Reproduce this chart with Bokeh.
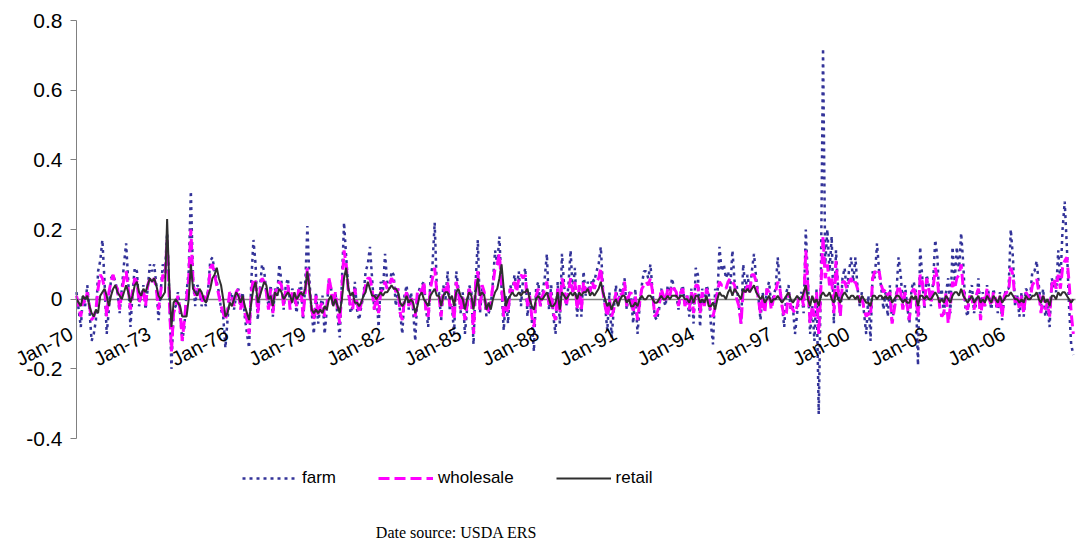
import numpy as np
from bokeh.plotting import figure
from bokeh.models import (Range1d, FixedTicker, Legend, LegendItem, Label, LabelSet,
                          ColumnDataSource)
from bokeh.core.properties import value
from bokeh.embed import file_html
from bokeh.resources import INLINE

# ---------------- data (monthly changes, Jan 1970 onward) ----------------
farm_rows = [
    [0.02, -0.03, -0.08, 0.01, -0.02, 0.04, -0.03, -0.12, -0.10, -0.06, 0.08, 0.11],   # 1970
    [0.17, 0.05, -0.10, -0.03, 0.06, 0.07, 0.05, 0.02, -0.04, 0.03, 0.10, 0.16],       # 1971
    [0.05, -0.08, 0.02, 0.09, 0.08, -0.02, 0.01, 0.04, -0.03, 0.03, 0.10, 0.08],       # 1972
    [0.10, 0.04, -0.06, 0.02, 0.10, 0.08, 0.19, 0.02, -0.20, -0.03, -0.02, 0.02],      # 1973
    [-0.04, -0.12, -0.08, 0.02, 0.08, 0.31, 0.06, -0.02, 0.04, 0.03, -0.02, 0.00],     # 1974
    [-0.02, 0.03, 0.11, 0.12, 0.08, 0.05, 0.02, -0.03, -0.05, -0.14, -0.06, 0.01],     # 1975
    [0.02, -0.03, 0.01, 0.03, -0.02, 0.02, -0.05, -0.10, -0.14, 0.05, 0.17, 0.10],     # 1976
    [-0.06, 0.03, 0.10, 0.08, 0.02, -0.02, 0.04, -0.05, 0.03, 0.01, 0.10, 0.05],       # 1977
    [-0.03, 0.04, 0.06, -0.02, 0.03, 0.01, -0.04, 0.02, 0.05, -0.06, 0.04, 0.21],      # 1978
    [0.05, -0.04, -0.10, 0.02, -0.07, -0.02, 0.01, -0.10, -0.03, 0.06, 0.03, -0.02],   # 1979
    [0.02, -0.05, -0.11, 0.05, 0.22, 0.12, 0.03, -0.04, -0.02, 0.05, -0.03, -0.06],    # 1980
    [-0.02, 0.01, 0.08, 0.10, 0.15, 0.06, -0.03, 0.02, -0.08, 0.05, 0.02, 0.13],       # 1981
    [0.05, 0.03, 0.08, 0.07, -0.02, 0.03, -0.04, -0.10, 0.01, 0.04, -0.03, 0.02],      # 1982
    [-0.03, -0.12, 0.01, 0.03, 0.04, 0.05, -0.03, -0.08, 0.05, 0.10, 0.22, 0.03],      # 1983
    [0.02, -0.06, 0.04, 0.00, 0.08, -0.03, -0.02, -0.10, 0.08, 0.03, -0.04, 0.02],     # 1984
    [-0.10, -0.03, 0.04, 0.02, -0.13, 0.05, 0.17, -0.04, 0.03, 0.01, -0.05, -0.04],    # 1985
    [-0.02, 0.05, 0.14, 0.10, 0.18, 0.03, -0.09, 0.01, -0.07, 0.04, 0.02, 0.07],       # 1986
    [0.03, 0.08, -0.02, 0.06, 0.09, -0.05, 0.02, -0.06, -0.15, 0.03, 0.05, -0.02],     # 1987
    [0.02, 0.06, 0.13, -0.03, 0.04, -0.05, -0.10, 0.05, -0.07, 0.13, 0.04, -0.02],     # 1988
    [0.04, 0.14, 0.02, 0.09, -0.05, 0.03, -0.05, 0.08, 0.01, 0.05, 0.02, 0.06],        # 1989
    [0.05, 0.08, 0.10, 0.15, 0.03, -0.02, -0.09, 0.02, -0.11, -0.03, 0.04, -0.02],     # 1990
    [0.03, 0.02, 0.06, -0.03, 0.02, 0.01, -0.07, 0.03, -0.10, -0.02, 0.04, 0.08],      # 1991
    [0.08, 0.06, 0.10, 0.02, -0.05, -0.06, -0.03, 0.03, 0.00, -0.02, 0.04, 0.01],      # 1992
    [0.06, 0.03, 0.01, -0.03, 0.02, 0.04, -0.02, 0.01, -0.05, 0.03, -0.07, 0.09],      # 1993
    [0.07, -0.08, 0.03, -0.02, 0.04, 0.02, -0.07, -0.13, 0.03, 0.00, 0.15, 0.08],      # 1994
    [0.10, 0.06, 0.08, 0.03, 0.14, 0.05, 0.04, -0.02, -0.07, 0.10, 0.03, 0.07],        # 1995
    [0.02, 0.08, 0.13, 0.06, 0.01, -0.06, 0.02, -0.03, 0.03, 0.05, -0.02, 0.01],       # 1996
    [0.03, 0.12, 0.04, -0.02, -0.08, 0.02, 0.04, -0.03, -0.02, -0.10, -0.04, 0.01],    # 1997
    [0.02, -0.04, 0.20, 0.05, -0.10, -0.02, -0.12, 0.03, -0.33, 0.06, 0.72, 0.10],     # 1998
    [0.20, 0.08, 0.18, -0.07, 0.14, 0.03, -0.05, 0.06, 0.09, 0.02, 0.08, 0.12],        # 1999
    [0.05, 0.12, 0.03, -0.02, 0.02, -0.04, -0.10, 0.01, -0.12, 0.08, 0.06, 0.16],      # 2000
    [0.08, 0.03, -0.03, 0.02, -0.05, 0.04, -0.07, -0.02, 0.02, 0.12, 0.07, -0.02],     # 2001
    [0.04, -0.02, -0.07, 0.03, 0.05, 0.02, -0.19, 0.15, 0.06, -0.03, 0.07, 0.04],      # 2002
    [-0.02, 0.05, 0.17, 0.12, -0.02, 0.03, -0.05, 0.02, 0.06, -0.04, 0.15, 0.05],      # 2003
    [0.15, 0.08, 0.19, 0.10, -0.03, -0.05, 0.02, 0.04, -0.04, -0.01, 0.06, -0.04],     # 2004
    [0.02, -0.02, 0.04, 0.01, -0.03, 0.03, -0.01, -0.04, 0.02, -0.06, 0.01, 0.03],     # 2005
    [0.03, 0.20, 0.12, -0.02, 0.01, -0.05, 0.02, -0.05, 0.03, 0.02, 0.01, 0.08],       # 2006
    [0.08, 0.11, 0.04, -0.02, 0.03, -0.05, -0.02, -0.08, 0.06, 0.04, 0.02, 0.14],      # 2007
    [0.05, 0.20, 0.28, 0.15, -0.02, -0.13, -0.16],                                      # 2008
]

wholesale_rows = [
    [0.01, -0.02, -0.05, 0.00, -0.01, 0.02, -0.02, -0.06, -0.05, -0.03, 0.03, 0.07],   # 1970
    [0.06, 0.03, -0.05, 0.02, 0.05, 0.07, 0.04, 0.03, -0.03, 0.02, 0.06, 0.08],        # 1971
    [0.03, -0.03, 0.02, 0.06, 0.05, -0.01, 0.01, 0.03, -0.02, 0.04, 0.06, 0.05],       # 1972
    [0.06, 0.03, -0.03, 0.02, 0.07, 0.06, 0.17, 0.00, -0.15, -0.04, -0.02, 0.01],      # 1973
    [-0.03, -0.12, -0.06, 0.00, 0.06, 0.20, 0.05, 0.01, 0.03, 0.02, -0.01, 0.01],      # 1974
    [-0.01, 0.02, 0.09, 0.10, 0.07, 0.04, 0.01, -0.02, -0.04, -0.06, -0.03, 0.02],     # 1975
    [0.01, -0.02, 0.02, 0.03, -0.03, 0.01, -0.04, -0.06, -0.10, 0.02, 0.06, 0.05],     # 1976
    [-0.04, 0.02, 0.06, 0.05, 0.02, -0.03, 0.03, -0.04, 0.02, 0.03, 0.05, 0.04],       # 1977
    [-0.02, 0.03, 0.04, -0.03, 0.02, 0.01, -0.02, 0.03, 0.03, -0.05, 0.02, 0.09],      # 1978
    [0.02, -0.03, -0.06, 0.01, -0.05, -0.02, -0.01, -0.05, -0.02, 0.06, 0.03, -0.02],  # 1979
    [0.02, -0.03, -0.07, 0.03, 0.14, 0.10, 0.02, -0.02, -0.03, 0.03, -0.01, -0.04],    # 1980
    [-0.01, 0.01, 0.04, 0.06, 0.06, 0.03, -0.03, 0.01, -0.04, 0.02, 0.03, 0.05],       # 1981
    [0.03, 0.04, 0.06, 0.05, 0.02, 0.03, -0.04, -0.06, 0.00, 0.02, -0.02, 0.01],       # 1982
    [-0.02, -0.05, 0.02, 0.03, 0.02, 0.05, -0.04, -0.05, 0.03, 0.06, 0.09, 0.02],      # 1983
    [0.01, -0.05, 0.03, 0.02, 0.05, -0.02, -0.01, -0.06, 0.05, 0.02, -0.03, 0.01],     # 1984
    [-0.06, -0.02, 0.03, 0.01, -0.10, 0.05, 0.08, -0.03, 0.04, 0.02, -0.04, -0.03],    # 1985
    [-0.01, 0.04, 0.09, 0.10, 0.13, 0.04, -0.05, -0.02, -0.04, 0.03, 0.02, 0.05],      # 1986
    [0.02, 0.06, 0.07, 0.06, 0.07, -0.02, 0.01, -0.05, -0.08, 0.01, 0.03, -0.02],      # 1987
    [0.01, 0.03, 0.05, -0.02, 0.02, -0.04, -0.06, 0.03, -0.04, 0.06, 0.03, -0.02],     # 1988
    [0.02, 0.06, 0.02, 0.05, -0.03, 0.04, -0.03, 0.05, 0.02, 0.04, 0.02, 0.05],        # 1989
    [0.03, 0.05, 0.06, 0.09, 0.02, -0.02, -0.05, 0.00, -0.05, -0.03, 0.02, -0.01],     # 1990
    [0.02, 0.01, 0.05, -0.02, 0.01, 0.02, -0.04, 0.01, -0.06, -0.01, 0.03, 0.04],      # 1991
    [0.05, 0.04, 0.06, 0.02, -0.05, -0.04, -0.02, 0.03, 0.01, -0.01, 0.03, 0.01],      # 1992
    [0.04, 0.03, 0.02, -0.02, 0.02, 0.03, -0.02, 0.01, -0.03, 0.02, -0.04, 0.04],      # 1993
    [0.04, -0.04, 0.02, -0.02, 0.03, 0.01, -0.04, -0.05, -0.02, 0.02, 0.05, 0.04],     # 1994
    [0.04, 0.03, 0.05, 0.06, 0.05, 0.04, 0.00, -0.02, -0.07, 0.03, 0.02, 0.04],        # 1995
    [0.02, 0.07, 0.07, 0.05, 0.00, -0.04, 0.01, -0.04, 0.03, 0.02, -0.03, 0.00],       # 1996
    [0.02, 0.05, 0.03, -0.02, -0.05, -0.04, 0.02, -0.02, -0.03, -0.04, -0.02, 0.01],   # 1997
    [0.01, -0.02, 0.14, 0.03, -0.07, -0.02, -0.05, 0.02, -0.10, 0.03, 0.18, 0.06],     # 1998
    [0.10, 0.04, 0.06, -0.04, 0.11, 0.02, -0.05, 0.05, 0.05, 0.03, 0.05, 0.06],        # 1999
    [0.04, 0.05, 0.03, -0.01, 0.01, -0.03, -0.05, -0.04, -0.05, 0.06, 0.08, 0.07],     # 2000
    [0.08, 0.04, 0.02, 0.03, 0.01, 0.02, -0.07, -0.03, 0.01, 0.04, 0.02, -0.03],       # 2001
    [0.02, -0.02, -0.06, 0.02, 0.03, 0.01, -0.05, 0.07, 0.05, -0.02, 0.06, 0.03],      # 2002
    [-0.01, 0.03, 0.09, 0.06, -0.02, -0.05, -0.04, 0.02, -0.07, -0.02, 0.05, 0.03],    # 2003
    [0.06, 0.07, 0.10, 0.03, -0.02, -0.03, 0.01, 0.00, -0.03, 0.01, 0.03, -0.06],      # 2004
    [0.01, -0.02, 0.03, 0.00, -0.02, 0.02, 0.00, -0.03, 0.01, -0.05, 0.01, 0.02],      # 2005
    [0.02, 0.09, 0.07, -0.01, 0.01, -0.03, 0.01, -0.04, 0.02, 0.01, 0.00, 0.04],       # 2006
    [0.05, 0.06, 0.02, -0.04, 0.01, -0.03, -0.01, -0.05, 0.04, 0.06, 0.03, 0.07],      # 2007
    [0.03, 0.09, 0.11, 0.12, 0.05, -0.04, -0.10],                                       # 2008
]

retail_rows = [
    [0.00, -0.01, -0.02, 0.01, 0.00, 0.01, -0.02, -0.04, -0.05, -0.03, -0.04, 0.01],   # 1970
    [0.02, 0.03, 0.01, -0.02, 0.01, 0.03, 0.04, 0.02, 0.01, 0.00, 0.02, 0.04],         # 1971
    [0.02, -0.01, 0.01, 0.04, 0.05, 0.02, 0.01, 0.03, 0.02, 0.04, 0.06, 0.05],         # 1972
    [0.06, 0.04, 0.01, 0.00, 0.01, 0.02, 0.23, 0.04, -0.08, -0.01, 0.00, -0.01],       # 1973
    [-0.02, -0.05, -0.05, -0.05, 0.00, 0.10, 0.03, 0.02, 0.01, 0.03, 0.02, 0.00],      # 1974
    [-0.01, 0.01, 0.03, 0.06, 0.07, 0.09, 0.06, 0.04, 0.00, -0.05, -0.04, -0.01],      # 1975
    [-0.02, 0.00, 0.02, 0.01, -0.01, 0.01, -0.02, -0.04, -0.06, -0.01, 0.03, 0.05],    # 1976
    [-0.01, 0.01, 0.03, 0.05, 0.04, 0.00, 0.01, -0.02, 0.02, 0.01, 0.03, 0.02],        # 1977
    [0.00, 0.01, 0.02, 0.01, -0.01, 0.02, 0.00, 0.01, 0.02, 0.01, 0.03, 0.08],         # 1978
    [0.03, -0.03, -0.04, -0.03, -0.04, -0.03, -0.04, -0.02, -0.03, 0.00, 0.01, -0.02], # 1979
    [0.00, -0.02, -0.04, 0.00, 0.06, 0.09, 0.03, 0.01, 0.02, -0.01, -0.01, -0.02],     # 1980
    [-0.01, 0.01, 0.02, 0.05, 0.03, 0.01, 0.01, 0.00, 0.01, 0.02, 0.01, 0.02],         # 1981
    [0.02, 0.03, 0.04, 0.03, 0.03, 0.02, -0.01, -0.02, -0.01, 0.01, -0.01, 0.00],      # 1982
    [-0.01, -0.04, -0.02, 0.01, 0.02, 0.00, -0.01, -0.02, 0.01, 0.02, 0.03, 0.01],     # 1983
    [0.01, -0.02, 0.01, 0.02, 0.02, 0.00, 0.01, -0.02, 0.02, 0.03, 0.01, 0.00],        # 1984
    [-0.03, 0.00, 0.02, 0.01, -0.03, 0.02, 0.06, 0.01, 0.02, 0.01, -0.03, -0.01],      # 1985
    [-0.03, 0.00, 0.02, 0.03, 0.06, 0.10, 0.03, -0.02, 0.00, 0.01, 0.02, 0.01],        # 1986
    [0.01, 0.02, 0.01, 0.02, 0.02, 0.03, 0.00, -0.02, -0.03, 0.00, 0.01, 0.00],        # 1987
    [0.00, 0.01, 0.02, 0.00, -0.02, -0.02, -0.01, 0.02, -0.03, 0.02, 0.01, 0.00],      # 1988
    [0.01, 0.02, 0.01, 0.02, 0.00, 0.02, 0.01, 0.02, 0.02, 0.03, 0.01, 0.02],          # 1989
    [0.01, 0.02, 0.03, 0.05, 0.02, 0.00, -0.02, -0.01, -0.03, -0.01, 0.00, -0.02],     # 1990
    [0.00, 0.01, 0.01, -0.01, 0.00, -0.02, -0.02, -0.01, -0.02, 0.00, 0.01, 0.00],     # 1991
    [0.00, 0.01, 0.01, 0.00, -0.01, -0.01, 0.00, 0.01, 0.00, 0.00, 0.01, 0.00],        # 1992
    [0.01, 0.01, 0.01, 0.00, 0.01, 0.01, 0.00, 0.00, -0.01, 0.01, -0.01, 0.01],        # 1993
    [0.01, -0.01, 0.00, -0.01, 0.01, -0.02, -0.02, -0.01, -0.03, 0.00, 0.02, 0.01],    # 1994
    [0.01, 0.00, 0.02, 0.03, 0.01, 0.03, 0.02, 0.01, 0.00, 0.03, 0.02, 0.03],          # 1995
    [0.02, 0.03, 0.04, 0.02, 0.01, 0.00, 0.01, -0.01, 0.00, 0.01, -0.01, 0.00],        # 1996
    [0.00, 0.01, 0.00, -0.01, 0.00, 0.01, 0.02, 0.00, -0.01, 0.00, 0.01, 0.00],        # 1997
    [0.00, 0.02, 0.04, 0.00, -0.02, 0.01, -0.01, 0.00, -0.02, 0.01, 0.02, 0.01],       # 1998
    [0.01, 0.02, 0.00, -0.01, 0.02, 0.00, -0.01, 0.01, 0.02, 0.01, 0.00, 0.01],        # 1999
    [0.01, 0.00, 0.01, -0.01, 0.01, 0.00, -0.01, -0.01, -0.02, 0.01, 0.01, 0.00],      # 2000
    [0.01, 0.01, 0.00, 0.01, 0.00, 0.01, -0.01, 0.00, 0.01, 0.01, 0.00, -0.01],        # 2001
    [0.00, -0.01, -0.01, 0.01, 0.00, 0.01, -0.02, 0.01, 0.01, 0.00, 0.01, 0.00],       # 2002
    [0.00, 0.01, 0.02, 0.01, -0.01, 0.00, -0.01, 0.01, 0.00, -0.01, 0.01, 0.02],       # 2003
    [0.02, 0.01, 0.03, 0.01, 0.00, -0.01, 0.00, 0.01, -0.01, 0.00, 0.01, -0.01],       # 2004
    [0.00, -0.01, 0.01, 0.00, -0.01, 0.01, 0.00, -0.01, 0.01, -0.01, 0.00, 0.01],      # 2005
    [0.01, 0.02, 0.01, 0.00, 0.00, -0.01, 0.00, -0.01, 0.01, 0.00, 0.00, 0.01],        # 2006
    [0.01, 0.02, 0.00, -0.01, 0.01, -0.01, 0.00, -0.02, 0.01, 0.01, 0.00, 0.02],       # 2007
    [0.01, 0.02, 0.02, 0.01, 0.00, -0.01, 0.00],                                        # 2008
]

tick_labels = ["Jan-70", "Jan-73", "Jan-76", "Jan-79", "Jan-82", "Jan-85", "Jan-88",
               "Jan-91", "Jan-94", "Jan-97", "Jan-00", "Jan-03", "Jan-06"]
y_ticks = [-0.4, -0.2, 0, 0.2, 0.4, 0.6, 0.8]
y_tick_labels = ["-0.4", "-0.2", "0", "0.2", "0.4", "0.6", "0.8"]
series_names = ["farm", "wholesale", "retail"]

farm = [v for row in farm_rows for v in row]
wholesale = [v for row in wholesale_rows for v in row]
retail = [v for row in retail_rows for v in row]
n = len(farm)
months = list(range(n))
tick_months = [36 * i for i in range(len(tick_labels))]

# ---------------- layout (pixels inside the canvas) ----------------
W, H = 1080, 546
plot_left, plot_right = 76, 1075        # x of month 0 and of month n
y_top_px, y_bot_px = 20, 438            # y of 0.8 and of -0.4
ymin, ymax = -0.4, 0.8
px_per_month = (plot_right - plot_left) / n
px_per_unit = (y_bot_px - y_top_px) / (ymax - ymin)
x0 = -plot_left / px_per_month
x1 = x0 + W / px_per_month
y1 = ymax + y_top_px / px_per_unit
y0 = y1 - H / px_per_unit

src = ColumnDataSource(dict(x=months, farm=farm, wholesale=wholesale, retail=retail))

p = figure(width=W, height=H, x_range=Range1d(x0, x1), y_range=Range1d(y0, y1),
           output_backend="svg", toolbar_location=None,
           min_border=0, min_border_left=0, min_border_right=0,
           min_border_top=0, min_border_bottom=0,
           background_fill_color="white", border_fill_color="white")
p.grid.visible = False
p.outline_line_color = None

r_farm = p.line("x", "farm", source=src, line_color="#333399", line_width=2.5, line_dash="3 4")
r_whole = p.line("x", "wholesale", source=src, line_color="#FF00FF", line_width=3, line_dash="11 5")
r_retail = p.line("x", "retail", source=src, line_color="#2F2F2F", line_width=2)

# y axis drawn at month 0
ya = p.yaxis[0]
ya.fixed_location = 0
ya.bounds = (ymin, ymax)
ya.ticker = FixedTicker(ticks=y_ticks)
ya.major_label_overrides = {t: s for t, s in zip(y_ticks, y_tick_labels)}
ya.axis_line_color = "#808080"
ya.major_tick_line_color = "#808080"
ya.major_tick_out = 6
ya.major_tick_in = 0
ya.minor_tick_out = 0
ya.minor_tick_in = 0
ya.major_label_standoff = 8
ya.major_label_text_font = "Liberation Sans"
ya.major_label_text_font_size = "21px"
ya.major_label_text_color = "black"

# category axis crossing at 0 (its labels are drawn rotated below)
xa = p.xaxis[0]
xa.fixed_location = 0
xa.bounds = (0, n)
xa.level = "underlay"
xa.ticker = FixedTicker(ticks=[])
xa.axis_line_color = "#808080"
xa.axis_line_width = 1.5
xa.major_tick_out = 0
xa.major_tick_in = 0
xa.minor_tick_out = 0
xa.minor_tick_in = 0

label_drop_px = 33
lab_src = ColumnDataSource(dict(x=tick_months,
                                y=[-label_drop_px / px_per_unit] * len(tick_months),
                                text=tick_labels))
p.add_layout(LabelSet(x="x", y="y", text="text", source=lab_src, angle=0.48,
                      text_align="right", text_baseline="middle", x_offset=-5,
                      text_font=value("Liberation Sans"), text_font_size=value("20px"),
                      text_color=value("black")))

legend = Legend(items=[LegendItem(label=series_names[0], renderers=[r_farm]),
                       LegendItem(label=series_names[1], renderers=[r_whole]),
                       LegendItem(label=series_names[2], renderers=[r_retail])],
                location=(242, 58), orientation="horizontal",
                glyph_width=55, glyph_height=20, label_height=20, label_standoff=5,
                spacing=42, padding=0, margin=0,
                label_text_font="Liberation Sans", label_text_font_size="17px",
                label_text_color="black",
                border_line_alpha=0, background_fill_alpha=0)
p.add_layout(legend)

p.add_layout(Label(x=456, y=14, x_units="screen", y_units="screen",
                   text="Date source: USDA ERS", text_font="Liberation Serif",
                   text_font_size="16px", text_align="center", text_baseline="middle",
                   text_color="black"))

open("out.html", "w").write(file_html(p, INLINE))
